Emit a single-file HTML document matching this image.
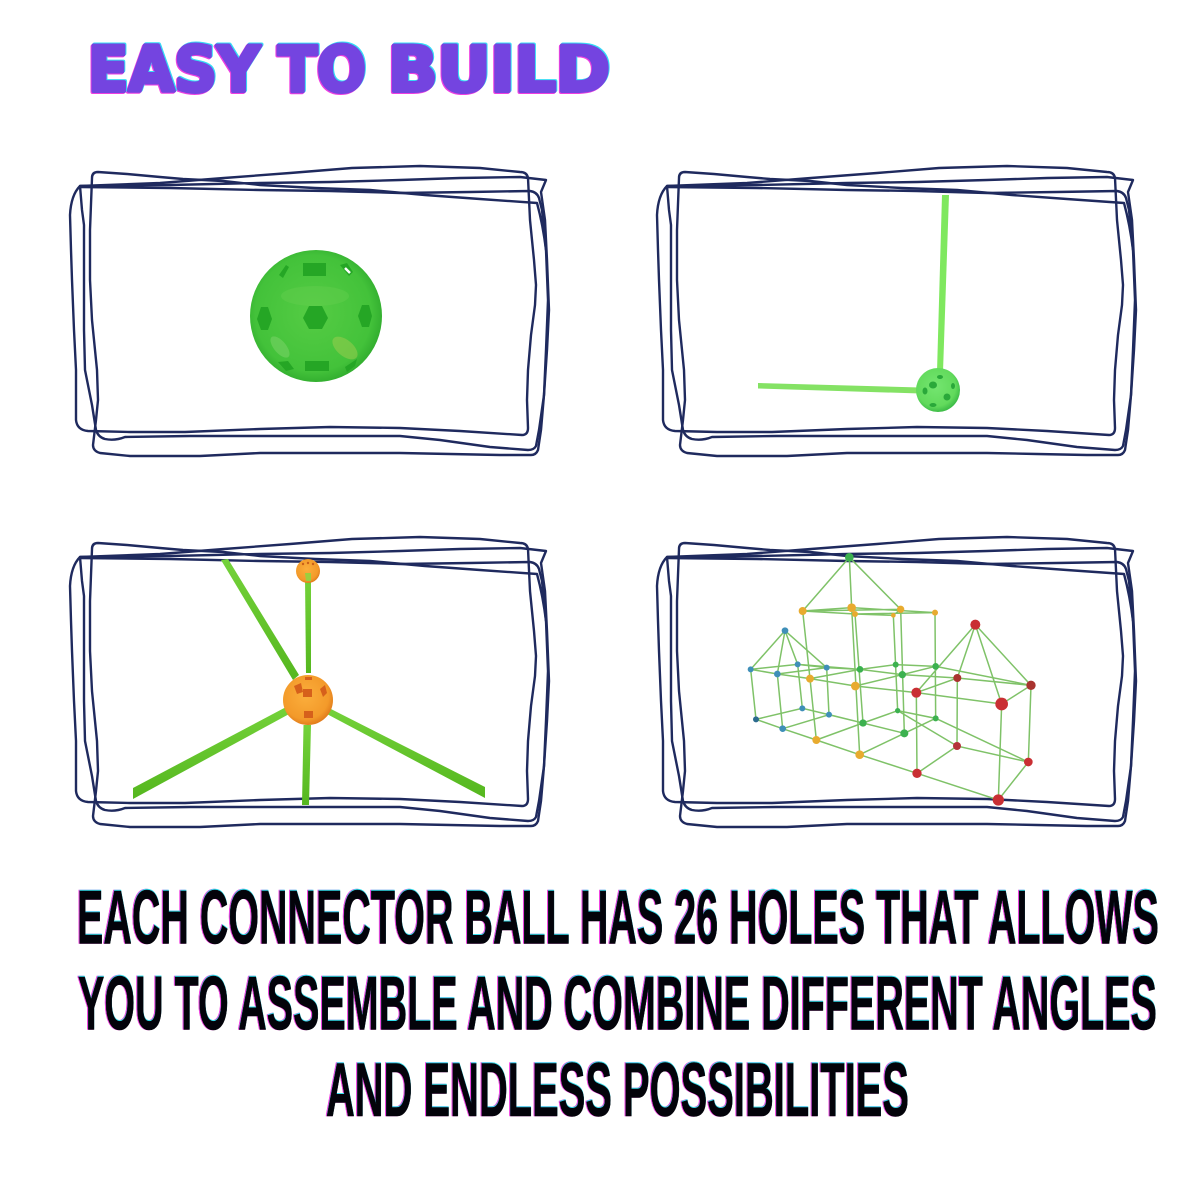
<!DOCTYPE html>
<html><head><meta charset="utf-8"><style>
html,body{margin:0;padding:0;background:#fff}
svg{display:block}
.t{font-family:"Liberation Sans",sans-serif;font-weight:700}
.d{font-family:"DejaVu Sans",sans-serif;font-weight:700}
</style></head><body>
<svg width="1200" height="1200" viewBox="0 0 1200 1200" xmlns="http://www.w3.org/2000/svg">
<defs>
<g id="f" fill="none" stroke="#1f2a5e" stroke-width="2.4" stroke-linejoin="round" stroke-linecap="round">
<path d="M92 178 Q92 172 98 172 L127 174 L160 177 L183 179 L223 181 L260 185 L315 188 L370 190 L425 195 L480 199 L537 203 Q543 225 546 250 L548 300 L546 350 L544 395 L541 430 L538 450 Q536 455 531 455 L500 455 L450 454 L400 453 L330 453 L260 453 L200 456 L130 456 L100 453 Q93 451 93 445 L96 420 L98 400 L97 370 L92 320 L90 280 L90 230 Z"/>
<path d="M80 186 L170 185 L260 183 L330 182 L400 180 L460 178 L520 177 L546 180 L541 192 L545 220 L547 260 L549 310 L547 350 L544 395 L539 430 L536 446 Q534 450 528 450 L490 447 L440 440 L400 436 L330 436 L260 436 L190 436 L125 437 Q115 441 105 439 Q98 437 96 430 L92 405 L85 370 L84 330 L84 280 L84 225 L82 210 Z"/>
<path d="M80 186 Q71 195 70 215 L71 250 L72 280 L74 330 L76 370 L76 420 Q77 430 88 431 L130 432 L185 432 L260 429 L330 427 L400 428 L460 431 L522 435 Q528 435 528 428 L527 400 L528 370 L531 335 L535 305 L536 285 L534 260 L530 220 L528 178 Q527 172 520 172 L480 168 L420 166 L352 168 L290 173 L224 178 L160 183 Z"/>
<path d="M80 187 L170 188 L260 190 L330 191 L400 193 L470 192 L530 191 Q537 192 539 198 L542 210 L546 250"/>
</g>
<radialGradient id="gb" cx="48%" cy="48%" r="55%"><stop offset="0" stop-color="#55cc44"/><stop offset=".8" stop-color="#43c23a"/><stop offset="1" stop-color="#2ea92c"/></radialGradient>
<radialGradient id="lb" cx="45%" cy="42%" r="60%"><stop offset="0" stop-color="#74e570"/><stop offset=".75" stop-color="#62da5c"/><stop offset="1" stop-color="#38b844"/></radialGradient>
<radialGradient id="ob" cx="45%" cy="42%" r="62%"><stop offset="0" stop-color="#fbae3c"/><stop offset=".75" stop-color="#f39a2a"/><stop offset="1" stop-color="#dd7418"/></radialGradient>
<linearGradient id="gs" x1="0" y1="0" x2="0" y2="1"><stop offset="0" stop-color="#74d23a"/><stop offset="1" stop-color="#55b71f"/></linearGradient>
</defs>

<!-- Title -->
<g class="d" font-size="62" fill="#7444e0" stroke="#7444e0" stroke-width="4" stroke-linejoin="round" style="filter:drop-shadow(1px -1px 0 #35dcf5) drop-shadow(-1px 1px 0 #ee3fe0)">
<text class="d" x="88" y="91" textLength="172" lengthAdjust="spacingAndGlyphs">EASY</text>
<text class="d" x="278" y="91" textLength="88" lengthAdjust="spacingAndGlyphs">TO</text>
<text class="d" x="388" y="91" textLength="222" lengthAdjust="spacingAndGlyphs">BUILD</text>
</g>

<!-- Frames -->
<use href="#f"/>
<use href="#f" x="587"/>
<use href="#f" y="371"/>
<use href="#f" x="587" y="371"/>

<!-- Panel 1: ball -->
<circle cx="316" cy="316" r="66" fill="url(#gb)"/>
<ellipse cx="315" cy="296" rx="34" ry="10" fill="#66cf50" opacity=".4"/>
<ellipse cx="345" cy="348" rx="15" ry="8" fill="#a0cd50" opacity=".5" transform="rotate(40 345 348)"/>
<ellipse cx="280" cy="347" rx="13" ry="6" fill="#84d870" opacity=".45" transform="rotate(50 280 347)"/>
<g fill="#25a625">
<path d="M303 263h23v13h-23z"/>
<path d="M303 318l6-12h13l6 12-6 11h-13z"/>
<path d="M257 319l4-12h7l4 12-4 11h-7z"/>
<path d="M358 316l4-11h7l3 11-3 11h-7z"/>
<path d="M305 361h24v10h-24z"/>
<path d="M279 275l7-10 3 2-6 11z"/>
<path d="M278 362l10-1 6 8-8 2z"/>
<path d="M345 367l12-8-2 7-8 6z"/>
<path d="M340 265l7-2 6 9-4 4z"/>
</g>
<path d="M345 268l5 5" stroke="#fff" stroke-width="2.5" fill="none"/>

<!-- Panel 2 -->
<path d="M942 195h7l-6 177h-6z" fill="#7fe85f"/>
<path d="M758 383l162 4.500v6l-162-5z" fill="#84e264"/>
<circle cx="938" cy="390" r="22" fill="url(#lb)"/>
<g fill="#2aa83a"><ellipse cx="940" cy="377" rx="3" ry="2"/><ellipse cx="933" cy="385" rx="4" ry="3.500"/><ellipse cx="925" cy="391" rx="2.500" ry="3.500"/><ellipse cx="953" cy="386" rx="2" ry="3"/><ellipse cx="947" cy="397" rx="3.500" ry="3.500"/><ellipse cx="933" cy="405" rx="3.500" ry="2"/></g>

<!-- Panel 3 -->
<g fill="url(#gs)">
<path d="M221 560l7-1 71 116-6 5z"/>
<path d="M305 578h6v95h-5z"/>
<path d="M133 788L288 706L291 713L133 799z"/>
<path d="M303.500 725h7.500l-2 80h-7z"/>
<path d="M327 707L485 787V798L325 713z"/>
</g>
<circle cx="308" cy="571" r="12" fill="url(#ob)"/>
<path d="M305 573h6v8h-5z" fill="#9bcf3e"/>
<g fill="#c9601a"><circle cx="303" cy="564" r="1.200"/><circle cx="308" cy="563" r="1.200"/><circle cx="313" cy="564" r="1.200"/></g>
<circle cx="308" cy="700" r="25" fill="url(#ob)"/>
<g fill="#d6601b">
<rect x="303" y="689" width="9" height="8"/>
<path d="M294 686l7-3 2 9-6 2z"/>
<path d="M320 689l5-4 2 8-4 4z"/>
<rect x="304" y="711" width="9" height="7"/>
<rect x="305" y="677" width="7" height="3"/>
</g>

<!-- Panel 4 -->
<g transform="translate(720 540) scale(.33333)">
<g fill="none" stroke="#7fc268" stroke-width="4.500">
<path d="M388 52L248 213M388 52L395 203M388 52L542 208"/>
<path d="M248 213L395 203L645 218L405 222L248 213M248 213L542 208M405 222L520 226L542 208"/>
<path d="M248 213L270 416L289 600M395 203L419 644M405 222L429 549M520 226L533 512M542 208L553 580M645 218L647 535"/>
<path d="M195 272L92 388M195 272L172 402M195 272L233 373M195 272L320 383"/>
<path d="M92 388L233 373L320 383L172 402L92 388M92 388L108 538M172 402L188 566M233 373L247 505M320 383L327 524"/>
<path d="M108 538L188 566L289 600L419 644L591 700L835 780L925 666L711 618L591 700M108 538L247 505L327 524L188 566M247 505L429 549L289 600M327 524L553 580L419 644M429 549L533 512L647 535L553 580M533 512L711 618M647 535L925 666"/>
<path d="M172 402L270 416L406 438L589 458M233 373L420 388L547 404L712 414M320 383L420 388L527 374L647 379L933 436M270 416L420 388M406 438L547 404L647 379"/>
<path d="M766 254L589 458M766 254L712 414M766 254L845 492M766 254L933 436"/>
<path d="M589 458L712 414L933 436L845 492L589 458M589 458L591 700M712 414L711 618M845 492L835 780M933 436L925 666"/>
</g>
<g fill="#e8ab2f"><circle cx="248" cy="213" r="12"/><circle cx="395" cy="203" r="13"/><circle cx="405" cy="222" r="9"/><circle cx="520" cy="226" r="7"/><circle cx="542" cy="208" r="11"/><circle cx="645" cy="218" r="9"/><circle cx="270" cy="416" r="12"/><circle cx="406" cy="438" r="13"/><circle cx="289" cy="600" r="12"/><circle cx="419" cy="644" r="13"/></g>
<g fill="#3f8fb8"><circle cx="195" cy="272" r="10"/><circle cx="92" cy="388" r="9"/><circle cx="172" cy="402" r="10"/><circle cx="233" cy="373" r="9"/><circle cx="320" cy="383" r="9"/><circle cx="108" cy="538" r="9" fill="#2c6b8e"/><circle cx="188" cy="566" r="10"/><circle cx="247" cy="505" r="9"/><circle cx="327" cy="524" r="9"/></g>
<g fill="#3cb14f"><circle cx="388" cy="52" r="13"/><circle cx="420" cy="388" r="10"/><circle cx="527" cy="374" r="9"/><circle cx="547" cy="404" r="11"/><circle cx="647" cy="379" r="10"/><circle cx="429" cy="549" r="11"/><circle cx="533" cy="512" r="8"/><circle cx="553" cy="580" r="12"/><circle cx="647" cy="535" r="9"/></g>
<g fill="#c92f33"><circle cx="766" cy="254" r="15"/><circle cx="589" cy="458" r="15"/><circle cx="712" cy="414" r="12" fill="#a9332f"/><circle cx="845" cy="492" r="19"/><circle cx="933" cy="436" r="14" fill="#a9332f"/><circle cx="591" cy="700" r="14"/><circle cx="711" cy="618" r="12" fill="#b5333a"/><circle cx="835" cy="780" r="17"/><circle cx="925" cy="666" r="13"/></g>
</g>

<!-- Caption -->
<g class="t" fill="#03030a" stroke="#03030a" stroke-width=".6" font-size="76" style="filter:drop-shadow(.7px -.3px 0 #35e0ee) drop-shadow(-.7px .3px 0 #f040e0)">
<text class="t" x="77" y="943.500" textLength="1082" lengthAdjust="spacingAndGlyphs">EACH CONNECTOR BALL HAS 26 HOLES THAT ALLOWS</text>
<text class="t" x="78" y="1029.500" textLength="1079" lengthAdjust="spacingAndGlyphs">YOU TO ASSEMBLE AND COMBINE DIFFERENT ANGLES</text>
<text class="t" x="326" y="1116" textLength="583" lengthAdjust="spacingAndGlyphs">AND ENDLESS POSSIBILITIES</text>
</g>
</svg>
</body></html>
